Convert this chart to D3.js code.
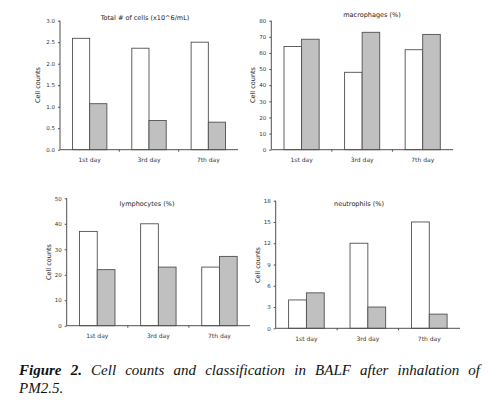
<!DOCTYPE html>
<html><head><meta charset="utf-8">
<script src="https://cdn.jsdelivr.net/npm/d3@7"></script>
<style>body{margin:0;background:#fff}svg{display:block}</style>
</head><body>
<script>
const categories = ["1st day", "3rd day", "7th day"];
const titles = ["Total # of cells (x10^6/mL)", "macrophages (%)", "lymphocytes (%)", "neutrophils (%)"];
const controlValues = [[2.59, 2.36, 2.50], [64, 48, 62], [37, 40, 23], [4, 12, 15]];
const pmValues = [[1.07, 0.68, 0.64], [68.5, 72.8, 71.5], [22, 23, 27.2], [5, 3, 2]];
const yMax = [3, 80, 50, 18];
const yStep = [0.5, 10, 10, 3];
const yLabel = "Cell counts";
const caption1 = ["Figure 2.", " Cell counts and classification in BALF after inhalation of"];
const caption2 = "PM2.5.";

const layout = [
  {x0: 60, x1: 238, top: 20.7, bottom: 149.7, tx: 145, ty: 20, lx: 40, ly: 85, fmt: d3.format(".1f")},
  {x0: 271.3, x1: 453, top: 20.7, bottom: 149.7, tx: 372, ty: 17, lx: 255, ly: 85, fmt: d3.format("d")},
  {x0: 66.7, x1: 250, top: 198.3, bottom: 325.7, tx: 147, ty: 206, lx: 51, ly: 262, fmt: d3.format("d")},
  {x0: 275.7, x1: 460, top: 200.7, bottom: 328.3, tx: 359, ty: 206, lx: 260, ly: 265, fmt: d3.format("d")}
];

const svg = d3.select("body").append("svg").attr("width", 489).attr("height", 407);
const stroke = "#505050";
const fontF = "DejaVu Sans, Verdana, sans-serif";

layout.forEach((L, i) => {
  const g = svg.append("g");
  const y = d3.scaleLinear().domain([0, yMax[i]]).range([L.bottom, L.top]);
  const x = d3.scaleBand().domain(categories).range([L.x0, L.x1]).paddingInner(0.42).paddingOuter(0.21);
  const xs = d3.scaleBand().domain(["c", "p"]).range([0, x.bandwidth()]);
  const ticks = d3.range(0, yMax[i] + yStep[i] / 2, yStep[i]);

  // y axis
  const ya = g.append("g").attr("transform", `translate(${L.x0},0)`)
    .call(d3.axisLeft(y).tickValues(ticks).tickFormat(L.fmt).tickSize(2).tickPadding(3));
  ya.select(".domain").attr("stroke", stroke).attr("d", `M0,${L.top}V${L.bottom}`);
  ya.selectAll(".tick line").attr("stroke", stroke);
  ya.selectAll("text").attr("font-size", 5.5).attr("font-family", fontF).attr("fill", "#333");

  // bars
  categories.forEach((c, j) => {
    const vals = [["c", controlValues[i][j], "#ffffff"], ["p", pmValues[i][j], "#c0c0c0"]];
    vals.forEach(([k, v, col]) => {
      g.append("rect")
        .attr("x", x(c) + xs(k)).attr("width", xs.bandwidth())
        .attr("y", y(v)).attr("height", y(0) - y(v))
        .attr("fill", col).attr("stroke", stroke).attr("stroke-width", 0.9);
    });
  });

  // x axis
  const xa = g.append("g").attr("transform", `translate(0,${L.bottom})`)
    .call(d3.axisBottom(x).tickSize(0).tickPadding(8));
  xa.select(".domain").attr("stroke", stroke).attr("d", `M${L.x0},0H${L.x1}`);
  xa.selectAll("text").attr("font-size", 6).attr("font-family", fontF).attr("fill", "#333");
  d3.range(1, categories.length).forEach(k => {
    const bx = L.x0 + k * (L.x1 - L.x0) / categories.length;
    xa.append("line").attr("x1", bx).attr("x2", bx)
      .attr("y1", 0).attr("y2", 2).attr("stroke", stroke);
  });

  g.append("text").attr("x", L.tx).attr("y", L.ty).attr("text-anchor", "middle")
    .attr("font-size", 6.5).attr("font-family", fontF).attr("fill", "#222").text(titles[i]);
  g.append("text").attr("transform", `translate(${L.lx},${L.ly}) rotate(-90)`)
    .attr("text-anchor", "middle").attr("font-size", 6.5).attr("font-family", fontF)
    .attr("fill", "#222").text(yLabel);
});

// caption
const cap = svg.append("text").attr("x", 19).attr("y", 375)
  .attr("font-family", "Liberation Serif, Times New Roman, serif").attr("font-size", 15)
  .attr("font-style", "italic").attr("fill", "#111");
cap.append("tspan").attr("font-weight", "bold").text(caption1[0]);
cap.append("tspan").text(caption1[1]);
const natural = cap.node().getComputedTextLength();
const spaces = (caption1.join("").match(/ /g) || []).length;
cap.attr("word-spacing", Math.max(0, (461 - natural) / spaces));
svg.append("text").attr("x", 19).attr("y", 393)
  .attr("font-family", "Liberation Serif, Times New Roman, serif").attr("font-size", 15)
  .attr("font-style", "italic").attr("fill", "#111").text(caption2);
</script>
</body></html>
